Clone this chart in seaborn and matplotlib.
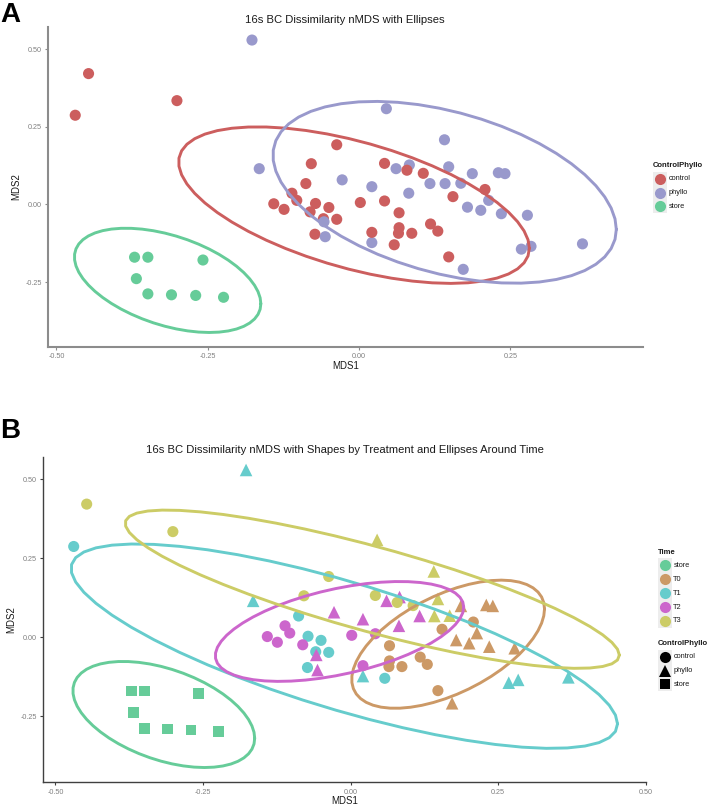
import numpy as np
import pandas as pd
import matplotlib
matplotlib.use("Agg")
import matplotlib.pyplot as plt
import seaborn as sns
from matplotlib.lines import Line2D
from matplotlib.patches import Rectangle

# ---------------- data ----------------
mds1 = [
    # store
    -0.371, -0.349, -0.258, -0.368, -0.349, -0.310, -0.270, -0.224,
    # T0 control
    0.066, 0.066, 0.065, 0.087, 0.118, 0.130, 0.155, 0.208, 0.148,
    # T0 phyllo
    0.187, 0.230, 0.241, 0.179, 0.201, 0.214, 0.235, 0.278, 0.172,
    # T1 control
    -0.469, -0.088, -0.072, -0.050, -0.059, -0.037, -0.073, 0.058,
    # T1 phyllo
    -0.177, -0.165, 0.021, 0.268, 0.284, 0.369,
    # T2 control
    -0.111, -0.103, -0.141, -0.124, -0.081, 0.002, 0.042, 0.021,
    # T2 phyllo
    -0.028, 0.061, 0.083, 0.021, 0.082, 0.117, -0.058, -0.056,
    # T3 control
    -0.447, -0.301, -0.037, -0.079, 0.042, 0.079, 0.106,
    # T3 phyllo
    0.045, 0.141, 0.148, 0.142, 0.168,
]
mds2 = [
    -0.170, -0.170, -0.179, -0.239, -0.288, -0.291, -0.293, -0.299,
    -0.027, -0.075, -0.093, -0.093, -0.063, -0.086, 0.025, 0.048, -0.169,
    0.099, 0.102, 0.099, -0.009, -0.019, 0.013, -0.030, -0.035, -0.209,
    0.287, 0.067, 0.003, -0.010, -0.046, -0.048, -0.096, -0.130,
    0.529, 0.115, -0.123, -0.144, -0.135, -0.127,
    0.036, 0.013, 0.002, -0.016, -0.024, 0.006, 0.011, -0.090,
    0.079, 0.115, 0.127, 0.057, 0.036, 0.067, -0.056, -0.104,
    0.421, 0.334, 0.192, 0.131, 0.132, 0.110, 0.100,
    0.308, 0.208, 0.121, 0.067, 0.068,
]
time_group = (["store"] * 8 + ["T0"] * 18 + ["T1"] * 14 + ["T2"] * 16 + ["T3"] * 12)
control_phyllo = (["store"] * 8
                  + ["control"] * 9 + ["phyllo"] * 9
                  + ["control"] * 8 + ["phyllo"] * 6
                  + ["control"] * 8 + ["phyllo"] * 8
                  + ["control"] * 7 + ["phyllo"] * 5)

cp_levels = ["control", "phyllo", "store"]
time_levels = ["store", "T0", "T1", "T2", "T3"]
x_ticks = [-0.50, -0.25, 0.00, 0.25, 0.50]
y_ticks = [-0.25, 0.00, 0.25, 0.50]
title_a = "16s BC Dissimilarity nMDS with Ellipses"
title_b = "16s BC Dissimilarity nMDS with Shapes by Treatment and Ellipses Around Time"

# ---------------- styles ----------------
cp_colors = {"control": "#CC5E5E", "phyllo": "#9999CC", "store": "#66CC99"}
time_colors = {"store": "#66CC99", "T0": "#CC9966", "T1": "#66CCCC",
               "T2": "#CC66CC", "T3": "#CCCC66"}
cp_markers = {"control": "o", "phyllo": "^", "store": "s"}
cp_sizes = {"control": 64, "phyllo": 82, "store": 58}

df = pd.DataFrame({"MDS1": mds1, "MDS2": mds2, "Time": time_group,
                   "ControlPhyllo": control_phyllo})


# ---------------- stat_ellipse equivalent (MASS::cov.trob, t, 95%) ----------------
def cov_trob(x, nu=5, maxit=25, tol=0.01):
    n, p = x.shape
    wt = np.ones(n)
    loc = x.mean(axis=0)
    w = np.sqrt(wt)
    X = x - loc
    for _ in range(maxit):
        w0 = w
        X = x - loc
        A = np.sqrt(w / w.sum())[:, None] * X
        _, d, vt = np.linalg.svd(A, full_matrices=False)
        wX = X @ vt.T @ np.diag(1.0 / d)
        Q = (wX ** 2).sum(axis=1)
        w = (wt * (nu + p)) / (nu + Q)
        loc = (w[:, None] * x).sum(axis=0) / w.sum()
        if np.all(np.abs(w - w0) < tol):
            break
    sX = np.sqrt(w)[:, None] * X
    cov = sX.T @ sX / wt.sum()
    return loc, cov


def ellipse_path(xs, ys, level=0.95, segments=51):
    pts = np.column_stack([xs, ys])
    center, shape = cov_trob(pts)
    dfd = len(xs) - 1
    qf = dfd / 2.0 * ((1 - level) ** (-2.0 / dfd) - 1)
    radius = np.sqrt(2 * qf)
    ang = np.linspace(0, 2 * np.pi, segments + 1)
    circ = np.column_stack([np.cos(ang), np.sin(ang)])
    chol = np.linalg.cholesky(shape).T
    return center + radius * circ @ chol


# ---------------- figure ----------------
W, H = 708, 805
sns.set_theme(style="white")
plt.rcParams["font.family"] = ["Liberation Sans", "DejaVu Sans"]
fig = plt.figure(figsize=(W / 100, H / 100), dpi=100)


def px_axes(l, t, r, b):
    return fig.add_axes([l / W, 1 - b / H, (r - l) / W, (b - t) / H])


def style_axes(ax, spine_color, spine_lw, xlim, ylim):
    ax.set_xlim(*xlim)
    ax.set_ylim(*ylim)
    ax.set_xticks([t for t in x_ticks if xlim[0] <= t <= xlim[1] + 1e-9])
    ax.set_yticks(y_ticks)
    ax.xaxis.set_major_formatter(matplotlib.ticker.FuncFormatter(lambda v, p: f"{v:.2f}"))
    ax.yaxis.set_major_formatter(matplotlib.ticker.FuncFormatter(lambda v, p: f"{v:.2f}"))
    for s in ["top", "right"]:
        ax.spines[s].set_visible(False)
    for s in ["left", "bottom"]:
        ax.spines[s].set_color(spine_color)
        ax.spines[s].set_linewidth(spine_lw)
    ax.tick_params(axis="both", which="major", length=2.5, width=0.8,
                   color=spine_color, labelsize=5.2, labelcolor="#808080", pad=2,
                   bottom=True, left=True)
    ax.set_xlabel("MDS1", fontsize=7, color="#1a1a1a", labelpad=0.5)
    ax.set_ylabel("MDS2", fontsize=7, color="#1a1a1a", labelpad=3)
    ax.grid(False)
    ax.set_facecolor("white")


# ---------- Panel A ----------
axA = px_axes(48, 27, 643, 347)
sns.scatterplot(data=df, x="MDS1", y="MDS2", hue="ControlPhyllo",
                hue_order=cp_levels, palette=cp_colors, s=64, linewidth=0,
                legend=False, ax=axA, zorder=2)
for lev in cp_levels:
    sub = df[df["ControlPhyllo"] == lev]
    e = ellipse_path(sub["MDS1"].values, sub["MDS2"].values)
    axA.plot(e[:, 0], e[:, 1], color=cp_colors[lev], lw=2.1, zorder=3,
             solid_joinstyle="round")
style_axes(axA, "#8C8C8C", 1.5, (-0.514, 0.469), (-0.459, 0.571))
fig.text(345 / W, 1 - 20 / H, title_a, fontsize=8.1, ha="center", va="center",
         color="#1a1a1a")
fig.text(0.5 / W, 1 - 15 / H, "A", fontsize=20, fontweight="bold", ha="left",
         va="center", color="black")

# ---------- Panel B ----------
axB = px_axes(43, 456.7, 645.7, 782.3)
sns.scatterplot(data=df, x="MDS1", y="MDS2", hue="Time", hue_order=time_levels,
                palette=time_colors, style="ControlPhyllo", style_order=cp_levels,
                markers=cp_markers, size="ControlPhyllo", sizes=cp_sizes,
                linewidth=0, legend=False, ax=axB, zorder=2)
for lev in time_levels:
    sub = df[df["Time"] == lev]
    e = ellipse_path(sub["MDS1"].values, sub["MDS2"].values)
    axB.plot(e[:, 0], e[:, 1], color=time_colors[lev], lw=2.1, zorder=3,
             solid_joinstyle="round")
style_axes(axB, "#404040", 1.0, (-0.521, 0.50), (-0.459, 0.571))
fig.text(345 / W, 1 - 450 / H, title_b, fontsize=8.1, ha="center", va="center",
         color="#1a1a1a")
fig.text(0.5 / W, 1 - 431 / H, "B", fontsize=20, fontweight="bold", ha="left",
         va="center", color="black")


# ---------------- legends (ggplot style) ----------------
def legend_block(title, title_xy, key_x, text_x, ys, labels, colors, markers, msizes):
    fig.text(title_xy[0] / W, 1 - title_xy[1] / H, title, fontsize=5.5,
             fontweight="bold", ha="left", va="center", color="#1a1a1a")
    for y, lab, c, m, ms in zip(ys, labels, colors, markers, msizes):
        fig.add_artist(Rectangle(((key_x - 6.8) / W, 1 - (y + 6.8) / H), 13.6 / W, 13.6 / H,
                                 transform=fig.transFigure, facecolor="#EDEDED",
                                 edgecolor="none", zorder=1))
        fig.add_artist(Line2D([key_x / W], [1 - y / H], marker=m, markersize=ms,
                              color=c, linestyle="none", markeredgewidth=0,
                              transform=fig.transFigure, zorder=2))
        fig.text(text_x / W, 1 - y / H, lab, fontsize=5.3, ha="left", va="center",
                 color="#1a1a1a")


legend_block("ControlPhyllo", (653, 165.7), 660, 669, [179, 192.7, 206.3],
             cp_levels, [cp_colors[k] for k in cp_levels], ["o"] * 3, [8] * 3)
legend_block("Time", (658, 552.3), 665, 673.3, [565.3, 579.3, 593, 607, 620.7],
             time_levels, [time_colors[k] for k in time_levels], ["o"] * 5, [8] * 5)
legend_block("ControlPhyllo", (658, 643.3), 665, 673.3, [656.7, 670.7, 684.3],
             cp_levels, ["black"] * 3, [cp_markers[k] for k in cp_levels], [8, 8.5, 7.5])

fig.savefig("out.png", dpi=100, facecolor="white")
